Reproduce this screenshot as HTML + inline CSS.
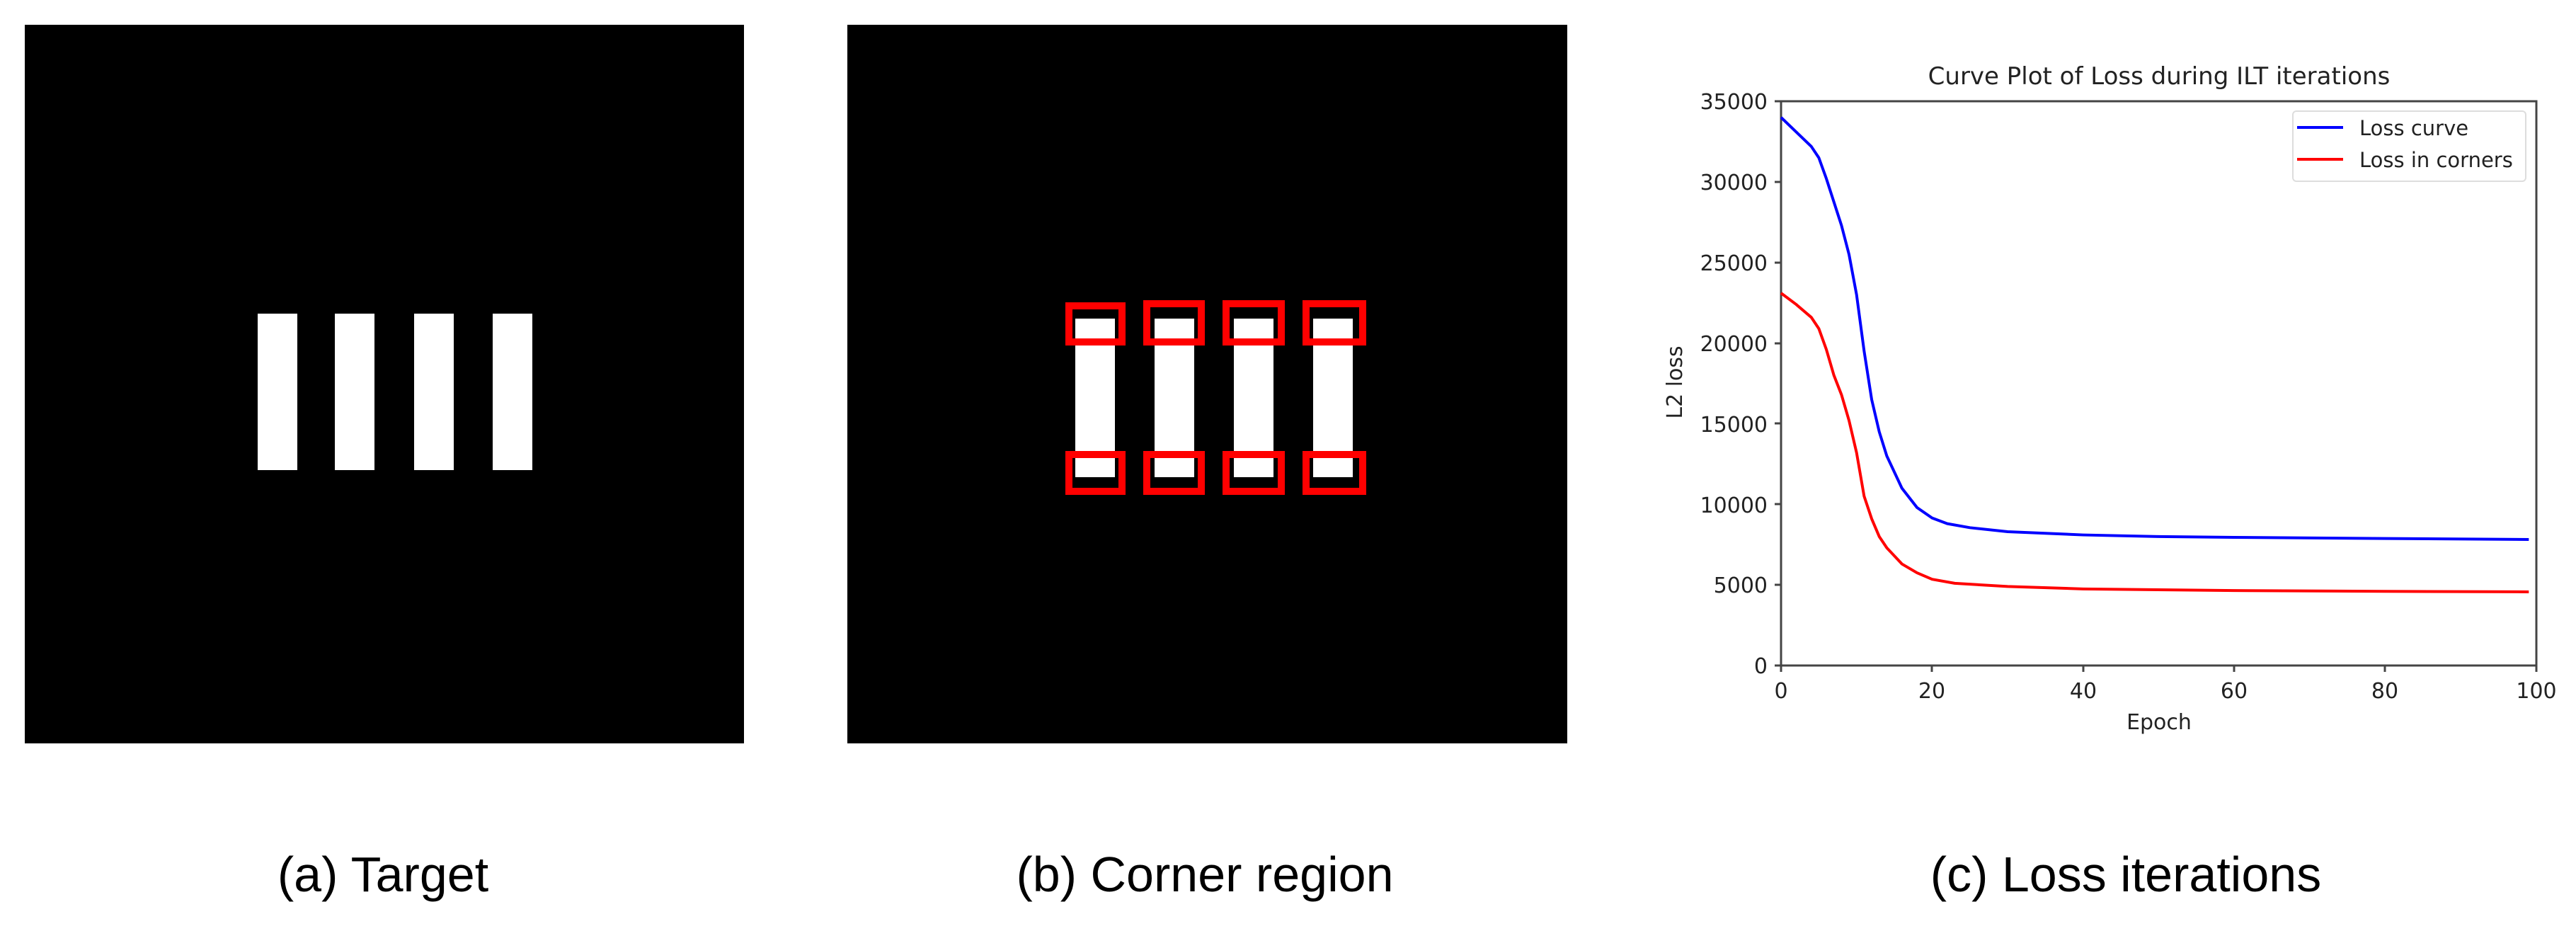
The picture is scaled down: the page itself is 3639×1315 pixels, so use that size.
<!DOCTYPE html>
<html><head><meta charset="utf-8"><style>
html,body{margin:0;padding:0;background:#fff;}
body{width:3639px;height:1315px;position:relative;overflow:hidden;font-family:"Liberation Sans","DejaVu Sans",sans-serif;}
.cap{position:absolute;top:1195px;font-size:70px;color:#000;white-space:nowrap;transform:translateX(-50%);}
</style></head><body>
<svg width="3639" height="1315" style="position:absolute;left:0;top:0">
<rect x="35" y="35" width="1016" height="1015" fill="#000"/>
<rect x="364" y="443" width="56" height="221" fill="#fff"/>
<rect x="473" y="443" width="56" height="221" fill="#fff"/>
<rect x="585" y="443" width="56" height="221" fill="#fff"/>
<rect x="696" y="443" width="56" height="221" fill="#fff"/>
<rect x="1197" y="35" width="1017" height="1015" fill="#000"/>
<g fill="#fff">
<rect x="1519" y="450" width="56" height="224"/>
<rect x="1631" y="450" width="56" height="224"/>
<rect x="1743" y="450" width="56" height="224"/>
<rect x="1855" y="450" width="56" height="224"/>
</g>
<g fill="none" stroke="#f00" stroke-width="10">
<rect x="1510" y="432" width="75" height="51"/>
<rect x="1620" y="429" width="77" height="54"/>
<rect x="1732" y="429" width="78" height="54"/>
<rect x="1845" y="429" width="80" height="54"/>
<rect x="1510" y="642" width="75" height="52"/>
<rect x="1620" y="642" width="77" height="52"/>
<rect x="1732" y="642" width="78" height="52"/>
<rect x="1845" y="642" width="80" height="52"/>
</g>
<!-- chart -->
<g font-family="'DejaVu Sans','Liberation Sans',sans-serif" fill="#222">
<text x="3050" y="119" font-size="34" text-anchor="middle">Curve Plot of Loss during ILT iterations</text>
<g font-size="30" text-anchor="end">
<text x="2497" y="154">35000</text><text x="2497" y="268">30000</text><text x="2497" y="382">25000</text>
<text x="2497" y="496">20000</text><text x="2497" y="610">15000</text><text x="2497" y="724">10000</text>
<text x="2497" y="837">5000</text><text x="2497" y="951">0</text>
</g>
<g font-size="30" text-anchor="middle">
<text x="2516" y="986">0</text><text x="2729" y="986">20</text><text x="2943" y="986">40</text>
<text x="3156" y="986">60</text><text x="3369" y="986">80</text><text x="3583" y="986">100</text>
<text x="3050" y="1030">Epoch</text>
</g>
<text font-size="30" text-anchor="middle" transform="translate(2376,540) rotate(-90)">L2 loss</text>
</g>
<g stroke="#444" stroke-width="3" fill="none">
<rect x="2516" y="143" width="1067" height="797"/>
<path d="M2516 143h-9M2516 257h-9M2516 371h-9M2516 485h-9M2516 598h-9M2516 712h-9M2516 826h-9M2516 940h-9"/>
<path d="M2516 940v9M2729 940v9M2943 940v9M3156 940v9M3369 940v9M3583 940v9"/>
</g>
<g transform="translate(2516,940) scale(10.67,-0.02277)" fill="none" stroke-width="4" stroke-linejoin="round">
<path vector-effect="non-scaling-stroke" stroke="#00f" d="M0 34000 L2 33100 L4 32200 L5 31500 L6 30200 L8 27300 L9 25500 L10 23000 L11 19500 L12 16500 L13 14500 L14 13000 L16 11000 L18 9800 L20 9150 L22 8800 L25 8550 L30 8300 L40 8100 L50 8000 L60 7950 L80 7880 L99 7820"/>
<path vector-effect="non-scaling-stroke" stroke="#f00" d="M0 23100 L2 22400 L4 21600 L5 20900 L6 19600 L7 18000 L8 16800 L9 15200 L10 13200 L11 10500 L12 9100 L13 8000 L14 7300 L16 6300 L18 5750 L20 5350 L23 5100 L30 4900 L40 4750 L60 4650 L80 4600 L99 4570"/>
</g>
<rect x="3239" y="157" width="329" height="99" rx="5" fill="#fff" stroke="#ddd" stroke-width="2"/>
<line x1="3245" y1="180" x2="3310" y2="180" stroke="#00f" stroke-width="4"/>
<line x1="3245" y1="225" x2="3310" y2="225" stroke="#f00" stroke-width="4"/>
<g font-family="'DejaVu Sans','Liberation Sans',sans-serif" font-size="29" fill="#222">
<text x="3333" y="191">Loss curve</text>
<text x="3333" y="236">Loss in corners</text>
</g>
</svg>
<div class="cap" style="left:541px">(a) Target</div>
<div class="cap" style="left:1702px">(b) Corner region</div>
<div class="cap" style="left:3003px">(c) Loss iterations</div>
</body></html>
